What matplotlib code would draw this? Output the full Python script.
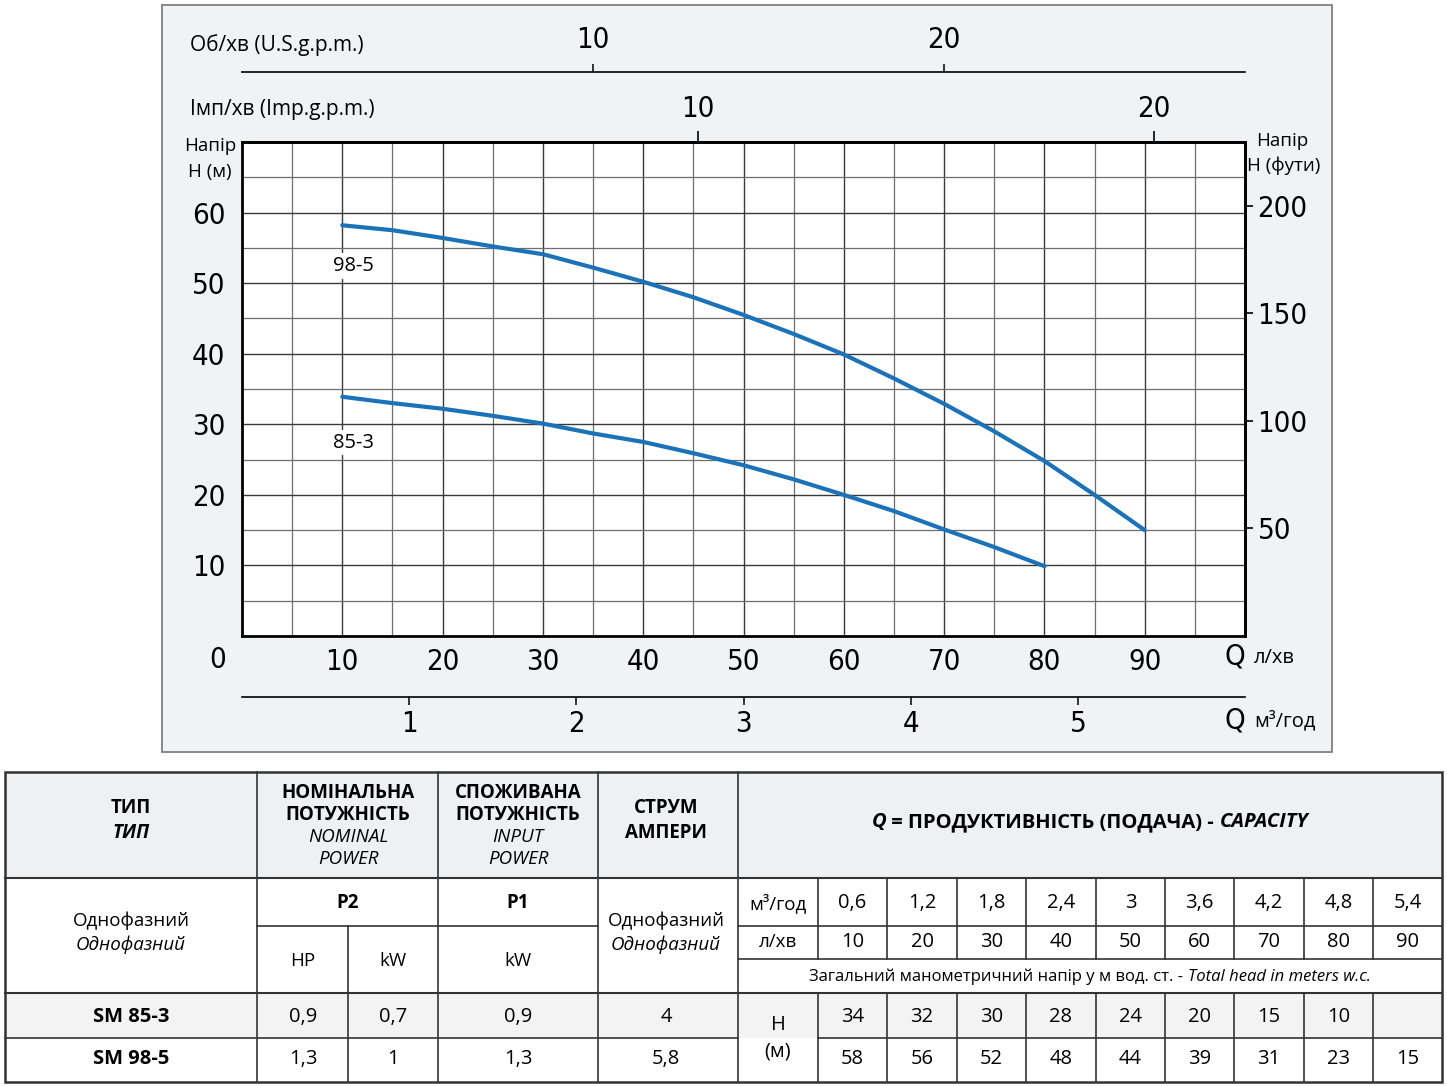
import matplotlib
matplotlib.use("Agg")
import matplotlib.pyplot as plt
from matplotlib.patches import Rectangle
from matplotlib.ticker import MultipleLocator, FixedLocator

# ---------------- data ----------------
q_985 = [10, 15, 20, 25, 30, 35, 40, 45, 50, 55, 60, 65, 70, 75, 80, 85, 90]
h_985 = [58.2, 57.5, 56.4, 55.2, 54.1, 52.2, 50.2, 48.0, 45.5, 42.8, 39.9, 36.5,
         32.9, 29.0, 24.8, 20.0, 15.0]
q_853 = [10, 15, 20, 25, 30, 35, 40, 45, 50, 55, 60, 65, 70, 75, 80]
h_853 = [33.9, 33.0, 32.2, 31.2, 30.1, 28.7, 27.5, 25.9, 24.2, 22.2, 20.0, 17.7,
         15.1, 12.6, 9.9]
curve_names = ["98-5", "85-3"]

x_ticks_lpm = [10, 20, 30, 40, 50, 60, 70, 80, 90]
y_ticks_m = [10, 20, 30, 40, 50, 60]
ft_ticks = [50, 100, 150, 200]
imp_ticks = [10, 20]
us_ticks = [10, 20]
m3h_ticks = [1, 2, 3, 4, 5]

types = ["SM 85-3", "SM 98-5"]
p2_hp = ["0,9", "1,3"]
p2_kw = ["0,7", "1"]
p1_kw = ["0,9", "1,3"]
amps = ["4", "5,8"]
cap_m3h = ["0,6", "1,2", "1,8", "2,4", "3", "3,6", "4,2", "4,8", "5,4"]
cap_lpm = ["10", "20", "30", "40", "50", "60", "70", "80", "90"]
head_853 = ["34", "32", "30", "28", "24", "20", "15", "10", ""]
head_985 = ["58", "56", "52", "48", "44", "39", "31", "23", "15"]

# ---------------- style ----------------
W, H = 1447, 1087
TXT = ["Open Sans", "DejaVu Sans"]
NUM = ["DejaVu Sans"]
NUMSIZE = 21
BLUE = "#1b72b8"
plt.rcParams["font.family"] = TXT

fig = plt.figure(figsize=(W / 100, H / 100), dpi=100)
fig.patch.set_facecolor("white")

bg = fig.add_axes([0, 0, 1, 1], zorder=0)
bg.set_xlim(0, W)
bg.set_ylim(H, 0)
bg.axis("off")

# chart panel
bg.add_patch(Rectangle((162, 5), 1170, 747, fc="#f1f2f4", ec="#7f7f7f", lw=1.3))


def numfont(labels):
    for lb in labels:
        lb.set_family(NUM)
        lb.set_fontstretch("condensed")
        lb.set_fontsize(NUMSIZE)


# ---------------- main chart ----------------
L, R, T, B = 242, 1245, 142, 636
ax = fig.add_axes([L / W, 1 - B / H, (R - L) / W, (B - T) / H], zorder=2)
ax.set_facecolor("white")
ax.set_xlim(0, 100)
ax.set_ylim(0, 70)
ax.xaxis.set_major_locator(FixedLocator(x_ticks_lpm))
ax.yaxis.set_major_locator(FixedLocator(y_ticks_m))
ax.xaxis.set_minor_locator(MultipleLocator(5))
ax.yaxis.set_minor_locator(MultipleLocator(5))
ax.grid(which="major", color="#3a3a3a", lw=1.0)
ax.grid(which="minor", color="#6e6e6e", lw=0.9)
ax.set_axisbelow(True)
for s in ax.spines.values():
    s.set_linewidth(2.0)
    s.set_color("black")
ax.tick_params(which="both", length=0)
ax.tick_params(axis="x", pad=9)
ax.tick_params(axis="y", pad=12)
numfont(ax.get_xticklabels() + ax.get_yticklabels())

ax.plot(q_985, h_985, color=BLUE, lw=3.0, solid_capstyle="round", zorder=5)
ax.plot(q_853, h_853, color=BLUE, lw=3.0, solid_capstyle="round", zorder=5)
ax.text(11.1, 52.4, curve_names[0], ha="center", va="center", fontsize=14.5,
        bbox=dict(fc="white", ec="none", pad=2), zorder=6)
ax.text(11.1, 27.4, curve_names[1], ha="center", va="center", fontsize=14.5,
        bbox=dict(fc="white", ec="none", pad=2), zorder=6)
t0 = ax.annotate("0", xy=(0, 0), xytext=(-24, -24), textcoords="offset pixels",
                 ha="center", va="center")
numfont([t0])

# right axis: feet
ft = ax.secondary_yaxis("right", functions=(lambda m: m / 0.3048, lambda f: f * 0.3048))
ft.yaxis.set_major_locator(FixedLocator(ft_ticks))
ft.tick_params(length=6, width=1.2, direction="out", pad=3)
ft.spines["right"].set_linewidth(2.0)
numfont(ft.get_yticklabels())

# top axis: Imp gpm
imp = ax.secondary_xaxis("top", functions=(lambda q: q / 4.546, lambda g: g * 4.546))
imp.xaxis.set_major_locator(FixedLocator(imp_ticks))
imp.tick_params(length=8, width=1.2, direction="out", pad=6)
imp.spines["top"].set_linewidth(2.0)
numfont(imp.get_xticklabels())

# top axis: US gpm (as drawn on the chart)
us = ax.secondary_xaxis((B - 72) / (B - T), functions=(lambda q: q / 3.5, lambda g: g * 3.5))
us.xaxis.set_major_locator(FixedLocator(us_ticks))
us.tick_params(length=6, width=1.1, direction="out", pad=7)
us.spines["top"].set_linewidth(1.2)
us.spines["bottom"].set_linewidth(1.2)
numfont(us.get_xticklabels())

# bottom axis: m3/h
m3 = ax.secondary_xaxis(-(697 - B) / (B - T), functions=(lambda q: q * 0.06, lambda v: v / 0.06))
m3.xaxis.set_major_locator(FixedLocator(m3h_ticks))
m3.tick_params(length=6, width=1.1, direction="out", pad=3)
m3.spines["top"].set_linewidth(1.2)
m3.spines["bottom"].set_linewidth(1.2)
numfont(m3.get_xticklabels())

# axis titles
bg.text(190, 45, "Об/хв (U.S.g.p.m.)", ha="left", va="center", fontsize=15)
bg.text(190, 110, "Імп/хв (Imp.g.p.m.)", ha="left", va="center", fontsize=15)
bg.text(210, 146, "Напір", ha="center", va="center", fontsize=13.5)
bg.text(210, 172, "Н (м)", ha="center", va="center", fontsize=13.5)
bg.text(1282, 141, "Напір", ha="center", va="center", fontsize=13.5)
bg.text(1284, 166, "Н (фути)", ha="center", va="center", fontsize=13.5)
qa = bg.text(1235, 657, "Q", ha="center", va="center")
qb = bg.text(1235, 720, "Q", ha="center", va="center")
numfont([qa, qb])
bg.text(1254, 658, "л/хв", ha="left", va="center", fontsize=14.5)
bg.text(1254, 721, "м³/год", ha="left", va="center", fontsize=14.5)

# ---------------- table ----------------
TL, TR, TT, TB = 5, 1442, 772, 1082
r_head, r_p, r_l, r_tot, r_1 = 878, 926, 959, 993, 1038
qcols = [818, 887, 957, 1026, 1096, 1165, 1234, 1304, 1373, 1442]
LC = "#333333"

bg.add_patch(Rectangle((TL, TT), TR - TL, r_head - TT, fc="#eff0f2", ec="none"))
bg.add_patch(Rectangle((TL, r_tot), TR - TL, r_1 - r_tot, fc="#f3f3f3", ec="none"))
bg.add_patch(Rectangle((TL, TT), TR - TL, TB - TT, fc="none", ec=LC, lw=1.8, zorder=3))


def hline(y, x0, x1, lw=1.2):
    bg.plot([x0, x1], [y, y], color=LC, lw=lw, zorder=3)


def vline(x, y0, y1, lw=1.2):
    bg.plot([x, x], [y0, y1], color=LC, lw=lw, zorder=3)


hline(r_head, TL, TR, 1.5)
hline(r_p, 257, 598)
hline(r_p, 738, TR)
hline(r_l, 738, TR)
hline(r_tot, TL, TR, 1.5)
hline(r_1, TL, 738)
hline(r_1, 818, TR)
for x in [257, 438, 598, 738]:
    vline(x, TT, TB)
vline(348, r_p, TB)
for x in qcols[:-1]:
    vline(x, r_head, r_l)
    vline(x, r_tot, TB)


def ct(x, y, s, **kw):
    kw.setdefault("fontsize", 13.5)
    bg.text(x, y, s, ha="center", va="center", zorder=4, **kw)


# header
ct(131, 808, "ТИП", fontweight="bold")
ct(131, 833, "ТИП", fontweight="bold", style="italic")
for x, lines in [(348, ["НОМІНАЛЬНА", "ПОТУЖНІСТЬ", "NOMINAL", "POWER"]),
                 (518, ["СПОЖИВАНА", "ПОТУЖНІСТЬ", "INPUT", "POWER"])]:
    ct(x, 793, lines[0], fontweight="bold")
    ct(x, 815, lines[1], fontweight="bold")
    ct(x, 837, lines[2], style="italic")
    ct(x, 859, lines[3], style="italic")
ct(666, 808, "СТРУМ", fontweight="bold")
ct(666, 833, "АМПЕРИ", fontweight="bold")

fig.canvas.draw()
rend = fig.canvas.get_renderer()


def composed(xc, y, parts, size, weight="normal"):
    objs, ws = [], []
    for s, st in parts:
        t = bg.text(0, y, s, ha="left", va="center", fontsize=size, fontweight=weight,
                    style=st, zorder=4)
        objs.append(t)
        ws.append(t.get_window_extent(rend).width)
    x0 = xc - sum(ws) / 2
    for t, w in zip(objs, ws):
        t.set_x(x0)
        x0 += w


composed(1090, 822, [("Q", "italic"), (" = ПРОДУКТИВНІСТЬ (ПОДАЧА) - ", "normal"),
                     ("CAPACITY", "italic")], 14.5, "bold")

# second header block
ct(131, 921, "Однофазний")
ct(131, 945, "Однофазний", style="italic")
ct(348, 903, "P2", fontweight="bold")
ct(518, 903, "P1", fontweight="bold")
ct(303, 961, "HP")
ct(393, 961, "kW")
ct(518, 961, "kW")
ct(666, 921, "Однофазний")
ct(666, 945, "Однофазний", style="italic")
ct(778, 903, "м³/год")
ct(778, 942, "л/хв")
qc = [(qcols[i] + qcols[i + 1]) / 2 for i in range(9)]
for i in range(9):
    ct(qc[i], 903, cap_m3h[i], fontsize=14.5)
    ct(qc[i], 942, cap_lpm[i], fontsize=14.5)

composed(1090, 977, [("Загальний манометричний напір у м вод. ст. - ", "normal"),
                     ("Total head in meters w.c.", "italic")], 12)

# data rows
rows_y = [1017, 1059]
heads = [head_853, head_985]
for k in range(2):
    y = rows_y[k]
    ct(131, y, types[k], fontweight="bold", fontsize=14.5)
    ct(303, y, p2_hp[k], fontsize=14.5)
    ct(393, y, p2_kw[k], fontsize=14.5)
    ct(518, y, p1_kw[k], fontsize=14.5)
    ct(666, y, amps[k], fontsize=14.5)
    for i in range(9):
        ct(qc[i], y, heads[k][i], fontsize=14.5)
ct(778, 1025, "H", fontsize=14.5)
ct(778, 1052, "(м)", fontsize=14.5)

fig.savefig("out.png", dpi=100, facecolor="white")
